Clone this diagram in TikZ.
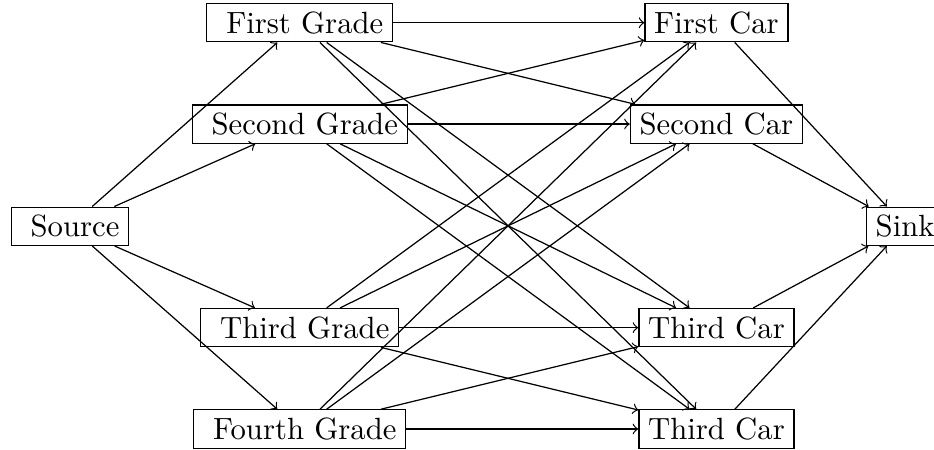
\documentclass[tikz,border=0pt]{standalone}
\usepackage{tikz}
\usetikzlibrary{positioning}

\begin{document}
\begin{tikzpicture}[
  >=to,
  box/.style={draw, inner xsep=3pt, inner ysep=2.6pt, line width=0.4pt},
  arr/.style={->, line width=0.4pt},
]
\useasboundingbox (0,0) rectangle (10.69,5.15);
\node[box] (src) at (0.80,2.56) {\ Source};
\node[box] (g1) at (3.43,4.89) {\ First Grade};
\node[box] (g2) at (3.43,3.73) {\ Second Grade};
\node[box] (g3) at (3.43,1.40) {\ Third Grade};
\node[box] (g4) at (3.43,0.24) {\ Fourth Grade};
\node[box] (c1) at (8.20,4.89) {First Car};
\node[box] (c2) at (8.20,3.73) {Second Car};
\node[box] (c3) at (8.20,1.40) {Third Car};
\node[box] (c4) at (8.20,0.24) {Third Car};
\node[box] (snk) at (10.36,2.56) {Sink};
\draw[arr] (src) -- (g1);
\draw[arr] (src) -- (g2);
\draw[arr] (src) -- (g3);
\draw[arr] (src) -- (g4);
\draw[arr] (g1) -- (c1);
\draw[arr] (g1) -- (c2);
\draw[arr] (g1) -- (c3);
\draw[arr] (g1) -- (c4);
\draw[arr] (g2) -- (c1);
\draw[arr] (g2) -- (c2);
\draw[arr] (g2) -- (c3);
\draw[arr] (g2) -- (c4);
\draw[arr] (g3) -- (c1);
\draw[arr] (g3) -- (c2);
\draw[arr] (g3) -- (c3);
\draw[arr] (g3) -- (c4);
\draw[arr] (g4) -- (c1);
\draw[arr] (g4) -- (c2);
\draw[arr] (g4) -- (c3);
\draw[arr] (g4) -- (c4);
\draw[arr] (c1) -- (snk);
\draw[arr] (c2) -- (snk);
\draw[arr] (c3) -- (snk);
\draw[arr] (c4) -- (snk);
\end{tikzpicture}
\end{document}
